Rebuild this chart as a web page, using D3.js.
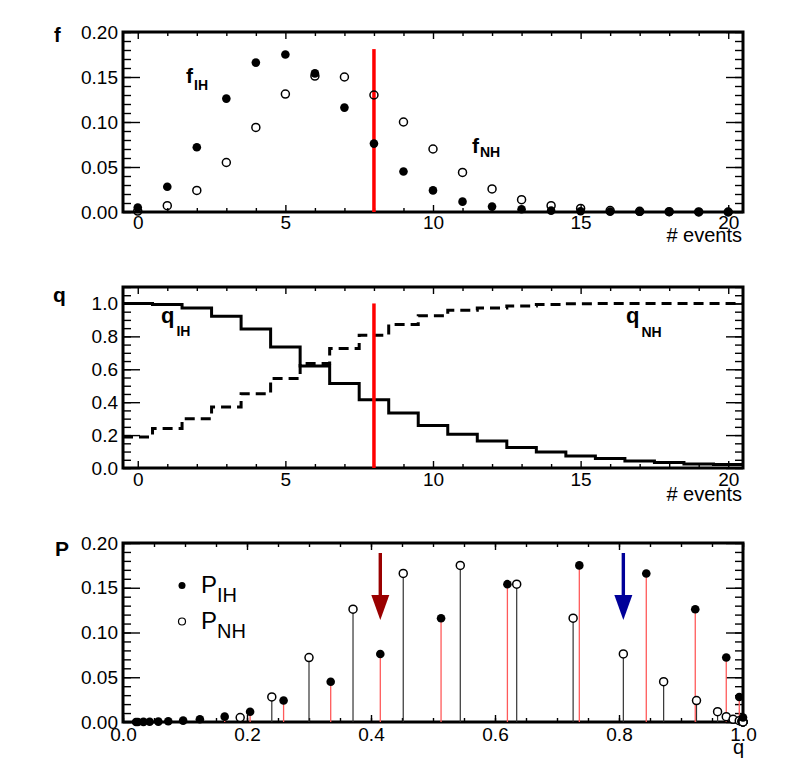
<!DOCTYPE html>
<html>
<head>
<meta charset="utf-8">
<script src="https://cdn.jsdelivr.net/npm/d3@7"></script>
<style>
body { margin: 0; background: #fff; }
text { font-family: "Liberation Sans", Arial, sans-serif; fill: #000; }
</style>
</head>
<body>
<svg id="chart" width="789" height="768"></svg>
<script>
// number of events per bin
var nEvents = [0, 1, 2, 3, 4, 5, 6, 7, 8, 9, 10, 11, 12, 13, 14, 15, 16, 17, 18, 19, 20];
// event-count distributions
var fIH = [0.005, 0.028, 0.072, 0.126, 0.166, 0.175, 0.154, 0.116, 0.076, 0.045, 0.024,
           0.0115, 0.006, 0.003, 0.0015, 0.0008, 0.0004, 0.0002, 0.0001, 0.0, 0.0];
var fNH = [0.001, 0.007, 0.024, 0.055, 0.094, 0.131, 0.151, 0.150, 0.130, 0.100, 0.070,
           0.044, 0.0256, 0.0137, 0.007, 0.004, 0.0016, 0.0007, 0.0003, 0.0001, 0.0];
// q values per bin (middle panel)
var qIH = [1.0, 0.994, 0.973, 0.923, 0.844, 0.736, 0.620, 0.513, 0.415, 0.335, 0.259,
           0.205, 0.164, 0.124, 0.097, 0.073, 0.057, 0.043, 0.033, 0.024, 0.021];
var qNH = [0.189, 0.240, 0.300, 0.371, 0.452, 0.544, 0.635, 0.726, 0.807, 0.872, 0.925,
           0.959, 0.973, 0.984, 0.994, 0.998, 0.999, 1.0, 1.0, 1.0, 1.0];
var nCut = 8;

var evTicks = [0, 5, 10, 15, 20];
var fTicks = [0, 0.05, 0.10, 0.15, 0.20];
var qTicks = [0, 0.2, 0.4, 0.6, 0.8, 1.0];

var svg = d3.select('#chart');
var frame = { left: 123, right: 743 };
var font = 'Liberation Sans, Arial, sans-serif';

var xEv = d3.scaleLinear().domain([-0.5, 20.5]).range([frame.left, frame.right]);
var yF = d3.scaleLinear().domain([0, 0.2]).range([212, 32]);
var yQ = d3.scaleLinear().domain([0, 1.1]).range([468, 287]);
var xQ = d3.scaleLinear().domain([0, 1]).range([frame.left, frame.right]);
var yP = d3.scaleLinear().domain([0, 0.2]).range([722, 543]);

function styleAxis(sel) {
	sel.select('.domain').remove();
	sel.attr('font-size', null).attr('font-family', null);
	sel.selectAll('line').attr('stroke', '#000').attr('stroke-width', 1.4);
	sel.selectAll('text').attr('font-size', 19).attr('font-family', font).attr('fill', '#000');
}

function steps(lo, hi, step) {
	var out = [];
	for (var v = lo; v <= hi + 1e-9; v += step) out.push(+v.toFixed(4));
	return out;
}

function drawAxes(x, y, o) {
	var g = svg.append('g');
	var bottom = y.range()[0], top = y.range()[1];
	var noLabel = function() { return ''; };
	// bottom
	g.append('g').attr('transform', 'translate(0,' + bottom + ')')
		.call(d3.axisBottom(x).tickValues(o.xMajor).tickSize(-7).tickPadding(o.xPad).tickFormat(o.xFmt))
		.call(styleAxis);
	g.append('g').attr('transform', 'translate(0,' + bottom + ')')
		.call(d3.axisBottom(x).tickValues(o.xMinor).tickSize(-4).tickFormat(noLabel))
		.call(styleAxis);
	// top mirror
	g.append('g').attr('transform', 'translate(0,' + top + ')')
		.call(d3.axisTop(x).tickValues(o.xMajor).tickSize(-7).tickFormat(noLabel))
		.call(styleAxis);
	g.append('g').attr('transform', 'translate(0,' + top + ')')
		.call(d3.axisTop(x).tickValues(o.xMinor).tickSize(-4).tickFormat(noLabel))
		.call(styleAxis);
	// left
	g.append('g').attr('transform', 'translate(' + frame.left + ',0)')
		.call(d3.axisLeft(y).tickValues(o.yMajor).tickSize(-17).tickPadding(5).tickFormat(o.yFmt))
		.call(styleAxis);
	g.append('g').attr('transform', 'translate(' + frame.left + ',0)')
		.call(d3.axisLeft(y).tickValues(o.yMinor).tickSize(-8).tickFormat(noLabel))
		.call(styleAxis);
	// right mirror
	g.append('g').attr('transform', 'translate(' + frame.right + ',0)')
		.call(d3.axisRight(y).tickValues(o.yMajor).tickSize(-17).tickFormat(noLabel))
		.call(styleAxis);
	g.append('g').attr('transform', 'translate(' + frame.right + ',0)')
		.call(d3.axisRight(y).tickValues(o.yMinor).tickSize(-8).tickFormat(noLabel))
		.call(styleAxis);
	// frame
	g.append('rect')
		.attr('x', frame.left).attr('y', top)
		.attr('width', frame.right - frame.left).attr('height', bottom - top)
		.attr('fill', 'none').attr('stroke', '#000').attr('stroke-width', 3);
}

function subLabel(x, y, main, sub, o) {
	var t = svg.append('text').attr('x', x).attr('y', y)
		.attr('font-weight', o.weight || 'normal');
	t.append('tspan').attr('font-size', o.size).text(main);
	t.append('tspan').attr('font-size', o.subSize).attr('dx', o.dx || 0).attr('dy', o.dy).text(sub);
}

var evMinor = nEvents.filter(function(n) { return n % 5 !== 0; });

/////// Panel 1: f vs # events ///////
drawAxes(xEv, yF, {
	xMajor: evTicks, xMinor: evMinor, xPad: 4, xFmt: d3.format('d'),
	yMajor: fTicks, yMinor: steps(0, 0.2, 0.01), yFmt: d3.format('.2f')
});

svg.append('line')
	.attr('x1', xEv(nCut)).attr('x2', xEv(nCut))
	.attr('y1', yF(0)).attr('y2', yF(0.181))
	.attr('stroke', '#ff0000').attr('stroke-width', 3.5);

svg.append('g').selectAll('circle')
	.data(nEvents).enter().append('circle')
	.attr('cx', function(d) { return xEv(d); })
	.attr('cy', function(d, i) { return yF(fIH[i]); })
	.attr('r', 4.3).attr('fill', '#000');

svg.append('g').selectAll('circle')
	.data(nEvents).enter().append('circle')
	.attr('cx', function(d) { return xEv(d); })
	.attr('cy', function(d, i) { return yF(fNH[i]); })
	.attr('r', 4).attr('fill', 'none').attr('stroke', '#000').attr('stroke-width', 1.5);

subLabel(186, 83, 'f', 'IH', { size: 21, subSize: 14, dx: 1, dy: 6.5, weight: 'bold' });
subLabel(472, 153, 'f', 'NH', { size: 21, subSize: 14, dx: 1, dy: 4, weight: 'bold' });

svg.append('text').attr('x', 54).attr('y', 42)
	.attr('font-size', 20).attr('font-weight', 'bold').text('f');
svg.append('text').attr('x', 742).attr('y', 242).attr('text-anchor', 'end')
	.attr('font-size', 20).text('# events');

/////// Panel 2: q vs # events ///////
drawAxes(xEv, yQ, {
	xMajor: evTicks, xMinor: evMinor, xPad: 5, xFmt: d3.format('d'),
	yMajor: qTicks, yMinor: steps(0, 1.1, 0.05), yFmt: d3.format('.1f')
});

function stepPoints(vals) {
	var pts = nEvents.map(function(n, i) { return [n - 0.5, vals[i]]; });
	pts.push([nEvents[nEvents.length - 1] + 0.5, vals[vals.length - 1]]);
	return pts;
}
var stepLine = d3.line()
	.x(function(d) { return xEv(d[0]); })
	.y(function(d) { return yQ(d[1]); })
	.curve(d3.curveStepAfter);

svg.append('path').attr('d', stepLine(stepPoints(qIH)))
	.attr('fill', 'none').attr('stroke', '#000').attr('stroke-width', 3);
svg.append('path').attr('d', stepLine(stepPoints(qNH)))
	.attr('fill', 'none').attr('stroke', '#000').attr('stroke-width', 3)
	.attr('stroke-dasharray', '10,6');

svg.append('line')
	.attr('x1', xEv(nCut)).attr('x2', xEv(nCut))
	.attr('y1', yQ(0)).attr('y2', yQ(1.0))
	.attr('stroke', '#ff0000').attr('stroke-width', 3.5);

subLabel(161, 323, 'q', 'IH', { size: 22, subSize: 14, dx: 2, dy: 13, weight: 'bold' });
subLabel(626, 323, 'q', 'NH', { size: 22, subSize: 14, dx: 2, dy: 14, weight: 'bold' });

svg.append('text').attr('x', 53).attr('y', 302)
	.attr('font-size', 21).attr('font-weight', 'bold').text('q');
svg.append('text').attr('x', 742).attr('y', 501).attr('text-anchor', 'end')
	.attr('font-size', 20).text('# events');

/////// Panel 3: P vs q ///////
drawAxes(xQ, yP, {
	xMajor: qTicks, xMinor: steps(0, 1, 0.05), xPad: 6, xFmt: d3.format('.1f'),
	yMajor: fTicks, yMinor: steps(0, 0.2, 0.01), yFmt: d3.format('.2f')
});

var stemsNH = svg.append('g');
stemsNH.selectAll('line')
	.data(nEvents).enter().append('line')
	.attr('x1', function(d, i) { return xQ(qNH[i]); })
	.attr('x2', function(d, i) { return xQ(qNH[i]); })
	.attr('y1', yP(0))
	.attr('y2', function(d, i) { return yP(fIH[i]); })
	.attr('stroke', '#333').attr('stroke-width', 1.2);

var stemsIH = svg.append('g');
stemsIH.selectAll('line')
	.data(nEvents).enter().append('line')
	.attr('x1', function(d, i) { return xQ(qIH[i]); })
	.attr('x2', function(d, i) { return xQ(qIH[i]); })
	.attr('y1', yP(0))
	.attr('y2', function(d, i) { return yP(fIH[i]); })
	.attr('stroke', '#ff5a5a').attr('stroke-width', 1.3);

svg.append('g').selectAll('circle')
	.data(nEvents).enter().append('circle')
	.attr('cx', function(d, i) { return xQ(qNH[i]); })
	.attr('cy', function(d, i) { return yP(fIH[i]); })
	.attr('r', 4).attr('fill', '#fff').attr('stroke', '#000').attr('stroke-width', 1.5);

svg.append('g').selectAll('circle')
	.data(nEvents).enter().append('circle')
	.attr('cx', function(d, i) { return xQ(qIH[i]); })
	.attr('cy', function(d, i) { return yP(fIH[i]); })
	.attr('r', 4.3).attr('fill', '#000');

// arrows marking the q values at the cut
function arrow(q, color) {
	var x = xQ(q);
	svg.append('line')
		.attr('x1', x).attr('x2', x).attr('y1', 553).attr('y2', 597)
		.attr('stroke', color).attr('stroke-width', 3.4);
	svg.append('path')
		.attr('d', 'M' + (x - 9) + ',595L' + (x + 9) + ',595L' + x + ',620Z')
		.attr('fill', color);
}
arrow(qIH[nCut], '#9a0000');
arrow(qNH[nCut], '#000099');

// legend
svg.append('circle').attr('cx', 182).attr('cy', 585.5).attr('r', 3.5).attr('fill', '#000');
svg.append('circle').attr('cx', 182).attr('cy', 621.5).attr('r', 3.5)
	.attr('fill', 'none').attr('stroke', '#000').attr('stroke-width', 1.2);
subLabel(201, 593, 'P', 'IH', { size: 24, subSize: 20, dx: 0, dy: 8.5 });
subLabel(201, 629, 'P', 'NH', { size: 24, subSize: 20, dx: 0, dy: 8.5 });

svg.append('text').attr('x', 55).attr('y', 556)
	.attr('font-size', 21).attr('font-weight', 'bold').text('P');
svg.append('text').attr('x', 744).attr('y', 754).attr('text-anchor', 'end')
	.attr('font-size', 20).text('q');
</script>
</body>
</html>
